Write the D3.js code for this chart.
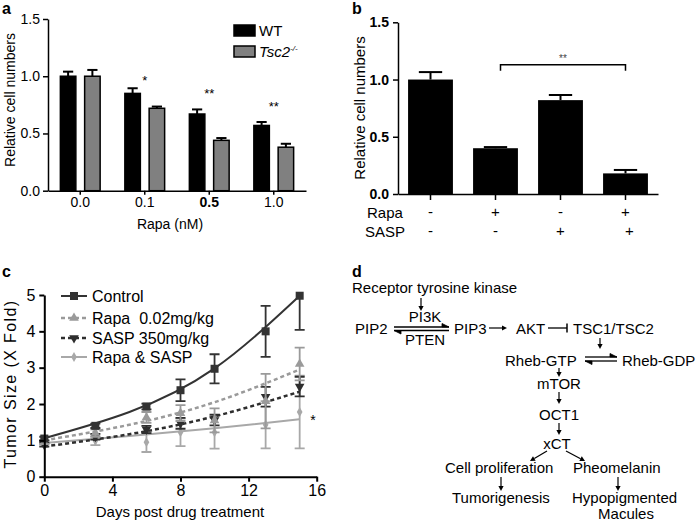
<!DOCTYPE html>
<html><head><meta charset="utf-8">
<script src="https://cdn.jsdelivr.net/npm/d3@7"></script>
<style>
body{margin:0;background:#fff}
svg{display:block;font-family:"Liberation Sans",Arial,sans-serif}
</style>
</head><body>
<svg id="chart" width="698" height="522"></svg>
<script>
// ---------- Panel a data ----------
const aCategories = ["0.0", "0.1", "0.5", "1.0"];
const aSeriesNames = ["WT", "Tsc2"];
const aWT = [1.00, 0.85, 0.67, 0.57];
const aWTErr = [0.04, 0.045, 0.04, 0.03];
const aTsc2 = [1.00, 0.72, 0.44, 0.38];
const aTsc2Err = [0.055, 0.015, 0.02, 0.03];
const aStars = ["", "*", "**", "**"];
const aStarLevel = [0, 0.99, 0.88, 0.77];
const aYTicks = [0, 0.5, 1.0, 1.5];

// ---------- Panel b data ----------
const bGroups = ["g1", "g2", "g3", "g4"];
const bRapa = ["-", "+", "-", "+"];
const bSASP = ["-", "-", "+", "+"];
const bValues = [1.00, 0.40, 0.82, 0.18];
const bErr = [0.065, 0.01, 0.045, 0.03];
const bYTicks = [0, 0.5, 1.0, 1.5];
const bBracketGroups = ["g2", "g4"];
const bBracketLevel = 1.13;

// ---------- Panel c data ----------
const cDays = [0, 3, 6, 8, 10, 13, 15];
const cControl = [1.05, 1.40, 1.93, 2.38, 2.97, 4.00, 4.98];
const cControlErr = [0.05, 0.06, 0.08, 0.30, 0.40, 0.70, 0.94];
const cRapa = [0.95, 1.20, 1.63, 1.75, 1.55, 2.08, 3.10];
const cRapaErr = [0.05, 0.10, 0.15, 0.22, 0.33, 0.75, 0.45];
const cSASP = [0.88, 1.10, 1.30, 1.47, 1.56, 2.20, 2.48];
const cSASPErr = [0.05, 0.08, 0.10, 0.15, 0.15, 0.27, 0.27];
const cCombo = [0.93, 0.99, 0.95, 1.22, 1.22, 1.43, 1.78];
const cComboErr = [0.05, 0.12, 0.27, 0.38, 0.45, 0.65, 1.00];
// trend lines
const cTrendDays = [0, 5, 10, 15];
const cControlTrend = [1.06, 1.78, 2.98, 4.98];
const cRapaTrend = [1.00, 1.43, 2.05, 2.95];
const cSASPTrend = [0.83, 1.17, 1.66, 2.34];
const cComboTrend = [0.93, 1.12, 1.33, 1.58];
const cLegend = ["Control", "Rapa  0.02mg/kg", "SASP 350mg/kg", "Rapa & SASP"];
const cXTicks = [0, 4, 8, 12, 16];
const cYTicks = [0, 1, 2, 3, 4, 5];

// ---------- Panel d labels ----------
const dLabels = [
  ["Receptor tyrosine kinase", 352, 293, "start"],
  ["PI3K", 425, 322, "middle"],
  ["PIP2", 355, 334, "start"],
  ["PTEN", 425, 345, "middle"],
  ["PIP3", 454, 334, "start"],
  ["AKT", 516, 334, "start"],
  ["TSC1/TSC2", 573, 334, "start"],
  ["Rheb-GTP", 505, 366, "start"],
  ["Rheb-GDP", 622, 366, "start"],
  ["mTOR", 559, 389, "middle"],
  ["OCT1", 559, 420, "middle"],
  ["xCT", 557, 449, "middle"],
  ["Cell proliferation", 445, 473, "start"],
  ["Pheomelanin", 573, 473, "start"],
  ["Tumorigenesis", 452, 503, "start"],
  ["Hypopigmented", 572, 503, "start"],
  ["Macules", 626, 519, "middle"]
];

const svg = d3.select("#chart");
svg.append("rect").attr("width", 698).attr("height", 522).attr("fill", "#fff");

function styleAxis(g, sw, fs, bold) {
  g.selectAll("path,line").attr("stroke", "#000").attr("stroke-width", sw);
  g.selectAll("text").attr("fill", "#000").attr("font-size", fs)
    .attr("font-family", '"Liberation Sans",Arial,sans-serif')
    .attr("font-weight", bold ? "bold" : "normal");
}
function panelLabel(t, x, y) {
  svg.append("text").text(t).attr("x", x).attr("y", y)
    .attr("font-size", 16).attr("font-weight", "bold").attr("fill", "#000");
}

// ================= Panel a =================
{
  const y = d3.scaleLinear().domain([0, 1.5]).range([190.7, 19]);
  const x = d3.scaleBand().domain(aCategories).range([48, 306])
    .paddingInner(0.36).paddingOuter(0.18);
  const xs = d3.scaleBand().domain(aSeriesNames).range([0, x.bandwidth()]).paddingInner(0.3);
  const series = [
    {name: "WT", vals: aWT, errs: aWTErr, fill: "#000"},
    {name: "Tsc2", vals: aTsc2, errs: aTsc2Err, fill: "#808080"}
  ];
  const g = svg.append("g");
  series.forEach(s => {
    aCategories.forEach((c, i) => {
      const x0 = x(c) + xs(s.name), w = xs.bandwidth();
      const cx = x0 + w / 2;
      g.append("line").attr("x1", cx).attr("x2", cx)
        .attr("y1", y(s.vals[i])).attr("y2", y(s.vals[i] + s.errs[i]))
        .attr("stroke", "#000").attr("stroke-width", 2);
      g.append("line").attr("x1", cx - w * 0.3).attr("x2", cx + w * 0.3)
        .attr("y1", y(s.vals[i] + s.errs[i])).attr("y2", y(s.vals[i] + s.errs[i]))
        .attr("stroke", "#000").attr("stroke-width", 2);
      g.append("rect").attr("x", x0 + 0.75).attr("width", w - 1.5)
        .attr("y", y(s.vals[i])).attr("height", y(0) - y(s.vals[i]))
        .attr("fill", s.fill).attr("stroke", "#000").attr("stroke-width", 1.5);
    });
  });
  aCategories.forEach((c, i) => {
    if (!aStars[i]) return;
    g.append("text").text(aStars[i]).attr("x", x(c) + x.bandwidth() / 2)
      .attr("y", y(aStarLevel[i]) + 8).attr("text-anchor", "middle")
      .attr("font-size", 13).attr("fill", "#000");
  });
  const ya = g.append("g").attr("transform", "translate(48,0)")
    .call(d3.axisLeft(y).tickValues(aYTicks).tickFormat(d3.format(".1f"))
      .tickSize(5).tickPadding(3).tickSizeOuter(0));
  styleAxis(ya, 1.5, 14, false);
  const xa = g.append("g").attr("transform", "translate(0,190.7)")
    .call(d3.axisBottom(x).tickSize(4).tickPadding(2).tickSizeOuter(0));
  styleAxis(xa, 1.5, 14, false);
  xa.selectAll(".tick text").filter(d => d === "0.5").attr("font-weight", "bold");
  g.append("text").text("Relative cell numbers")
    .attr("transform", "translate(15,100) rotate(-90)")
    .attr("text-anchor", "middle").attr("font-size", 14);
  g.append("text").text("Rapa (nM)").attr("x", 170).attr("y", 229)
    .attr("text-anchor", "middle").attr("font-size", 14);
  // legend
  const lg = g.append("g");
  lg.append("rect").attr("x", 234).attr("y", 25).attr("width", 21).attr("height", 11)
    .attr("fill", "#000").attr("stroke", "#000").attr("stroke-width", 1.5);
  lg.append("text").text("WT").attr("x", 259).attr("y", 36).attr("font-size", 15);
  lg.append("rect").attr("x", 234).attr("y", 46).attr("width", 21).attr("height", 11)
    .attr("fill", "#808080").attr("stroke", "#000").attr("stroke-width", 1.5);
  const tt = lg.append("text").attr("x", 259).attr("y", 57).attr("font-size", 15)
    .attr("font-style", "italic");
  tt.append("tspan").text("Tsc2");
  tt.append("tspan").text("-/-").attr("font-size", 8).attr("dy", -6);
  panelLabel("a", 2, 14);
}

// ================= Panel b =================
{
  const y = d3.scaleLinear().domain([0, 1.5]).range([194, 22.3]);
  const x = d3.scaleBand().domain(bGroups).range([398, 658])
    .paddingInner(0.31).paddingOuter(0.155);
  const g = svg.append("g");
  bGroups.forEach((c, i) => {
    const x0 = x(c), w = x.bandwidth(), cx = x0 + w / 2;
    const top = y(bValues[i] + bErr[i]);
    g.append("line").attr("x1", cx).attr("x2", cx).attr("y1", y(bValues[i])).attr("y2", top)
      .attr("stroke", "#000").attr("stroke-width", 2);
    g.append("line").attr("x1", cx - w * 0.26).attr("x2", cx + w * 0.26).attr("y1", top).attr("y2", top)
      .attr("stroke", "#000").attr("stroke-width", 2);
    g.append("rect").attr("x", x0).attr("width", w)
      .attr("y", y(bValues[i])).attr("height", y(0) - y(bValues[i])).attr("fill", "#000");
  });
  const ya = g.append("g").attr("transform", "translate(398,0)")
    .call(d3.axisLeft(y).tickValues(bYTicks).tickFormat(d3.format(".1f"))
      .tickSize(5).tickPadding(4).tickSizeOuter(0));
  styleAxis(ya, 1.5, 14, true);
  const xa = g.append("g").attr("transform", "translate(0,194)")
    .call(d3.axisBottom(x).tickSize(6).tickFormat("").tickSizeOuter(0));
  styleAxis(xa, 1.5, 14, false);
  // treatment rows
  g.append("text").text("Rapa").attr("x", 367).attr("y", 218).attr("font-size", 15);
  g.append("text").text("SASP").attr("x", 365).attr("y", 237).attr("font-size", 15);
  bGroups.forEach((c, i) => {
    const cx = x(c) + x.bandwidth() / 2;
    g.append("text").text(bRapa[i]).attr("x", cx).attr("y", 217)
      .attr("text-anchor", "middle").attr("font-size", 15);
    g.append("text").text(bSASP[i]).attr("x", cx + (i === 3 ? 4 : 0)).attr("y", 236)
      .attr("text-anchor", "middle").attr("font-size", 15);
  });
  // bracket
  const bx1 = x(bBracketGroups[0]) + x.bandwidth() / 2 + 5;
  const bx2 = x(bBracketGroups[1]) + x.bandwidth() / 2;
  const by = y(bBracketLevel);
  g.append("path").attr("d", `M${bx1},${by + 6}V${by}H${bx2}V${by + 6}`)
    .attr("fill", "none").attr("stroke", "#000").attr("stroke-width", 1.5);
  g.append("text").text("**").attr("x", (bx1 + bx2) / 2).attr("y", by - 3)
    .attr("text-anchor", "middle").attr("font-size", 10).attr("fill", "#444");
  g.append("text").text("Relative cell numbers")
    .attr("transform", "translate(365,108) rotate(-90)")
    .attr("text-anchor", "middle").attr("font-size", 15);
  panelLabel("b", 352, 14);
}

// ================= Panel c =================
{
  const x = d3.scaleLinear().domain([0, 16]).range([44.3, 316.7]);
  const y = d3.scaleLinear().domain([0, 5]).range([476.7, 295]);
  const g = svg.append("g");
  svg.append("defs").append("clipPath").attr("id", "cclip")
    .append("rect").attr("x", 30).attr("y", 295).attr("width", 300).attr("height", 190);
  const series = [
    {name: cLegend[3], vals: cCombo, errs: cComboErr, trend: cComboTrend, color: "#a8a8a8",
     dash: null, sym: d3.symbolDiamond, size: 28, rot: 0, lw: 2},
    {name: cLegend[2], vals: cSASP, errs: cSASPErr, trend: cSASPTrend, color: "#2e2e2e",
     dash: "4,3", sym: d3.symbolTriangle, size: 40, rot: 180, lw: 2.5},
    {name: cLegend[1], vals: cRapa, errs: cRapaErr, trend: cRapaTrend, color: "#9a9a9a",
     dash: "4,3", sym: d3.symbolTriangle, size: 40, rot: 0, lw: 2.5},
    {name: cLegend[0], vals: cControl, errs: cControlErr, trend: cControlTrend, color: "#333",
     dash: null, sym: d3.symbolSquare, size: 64, rot: 0, lw: 2}
  ];
  const line = d3.line().x(d => x(d[0])).y(d => y(d[1])).curve(d3.curveNatural);
  series.forEach(s => {
    const eg = g.append("g").attr("clip-path", "url(#cclip)");
    cDays.forEach((d, i) => {
      const cx = x(d), lo = y(s.vals[i] - s.errs[i]), hi = y(s.vals[i] + s.errs[i]);
      eg.append("path").attr("d", `M${cx},${lo}V${hi}M${cx - 5},${lo}H${cx + 5}M${cx - 5},${hi}H${cx + 5}`)
        .attr("stroke", s.color).attr("stroke-width", 1.8).attr("fill", "none");
    });
    g.append("path").datum(cTrendDays.map((d, i) => [d, s.trend[i]]))
      .attr("d", line).attr("fill", "none").attr("stroke", s.color)
      .attr("stroke-width", s.lw).attr("stroke-dasharray", s.dash);
    cDays.forEach((d, i) => {
      g.append("path").attr("d", d3.symbol(s.sym, s.size)())
        .attr("transform", `translate(${x(d)},${y(s.vals[i])}) rotate(${s.rot})`)
        .attr("fill", s.color);
    });
  });
  const ya = g.append("g").attr("transform", "translate(44.3,0)")
    .call(d3.axisLeft(y).tickValues(cYTicks).tickFormat(d3.format("d"))
      .tickSize(5).tickPadding(4).tickSizeOuter(0));
  styleAxis(ya, 2, 16, false);
  const xa = g.append("g").attr("transform", "translate(0,476.7)")
    .call(d3.axisBottom(x).tickValues(cXTicks).tickFormat(d3.format("d"))
      .tickSize(5).tickPadding(3).tickSizeOuter(0));
  styleAxis(xa, 2, 16, false);
  g.append("text").text("Days post drug treatment").attr("x", 180).attr("y", 517)
    .attr("text-anchor", "middle").attr("font-size", 15);
  g.append("text").text("Tumor Size (X Fold)")
    .attr("transform", "translate(16,384) rotate(-90)")
    .attr("text-anchor", "middle").attr("font-size", 16).attr("letter-spacing", 1.4);
  g.append("text").text("*").attr("x", 313).attr("y", 425)
    .attr("text-anchor", "middle").attr("font-size", 14);
  // legend
  const ly = [296, 318, 338, 357];
  [3, 2, 1, 0].forEach((si, k) => {
    const s = series[si], yy = ly[k];
    g.append("line").attr("x1", 61).attr("x2", 87).attr("y1", yy).attr("y2", yy)
      .attr("stroke", s.color).attr("stroke-width", s.lw).attr("stroke-dasharray", s.dash);
    g.append("path").attr("d", d3.symbol(s.sym, s.size)())
      .attr("transform", `translate(74,${yy}) rotate(${s.rot})`).attr("fill", s.color);
    g.append("text").text(s.name).attr("x", 92).attr("y", yy + 5.5)
      .attr("font-size", 16).style("white-space", "pre");
  });
  panelLabel("c", 2, 277);
}

// ================= Panel d =================
{
  const g = svg.append("g");
  dLabels.forEach(([t, x, y, a]) => {
    g.append("text").text(t).attr("x", x).attr("y", y).attr("text-anchor", a)
      .attr("font-size", 15).attr("fill", "#000");
  });
  function arrow(x1, y1, x2, y2) {
    const ang = Math.atan2(y2 - y1, x2 - x1), L = 5, W = 2.6;
    const bx = x2 - L * Math.cos(ang), by = y2 - L * Math.sin(ang);
    g.append("line").attr("x1", x1).attr("y1", y1).attr("x2", bx).attr("y2", by)
      .attr("stroke", "#000").attr("stroke-width", 1.2);
    const px = -Math.sin(ang) * W, py = Math.cos(ang) * W;
    g.append("path").attr("d", `M${x2},${y2}L${bx + px},${by + py}L${bx - px},${by - py}Z`)
      .attr("fill", "#000");
  }
  function harpoon(x1, y1, x2, y2, up) {
    const dir = Math.sign(x2 - x1);
    g.append("line").attr("x1", x1).attr("y1", y1).attr("x2", x2).attr("y2", y2)
      .attr("stroke", "#000").attr("stroke-width", 1.3);
    const s = up ? -1 : 1;
    g.append("path").attr("d", `M${x2},${y2}L${x2 - dir * 7},${y2 + s * 3.5}L${x2 - dir * 7},${y2}Z`)
      .attr("fill", "#000").attr("stroke", "#000").attr("stroke-width", 0.8);
  }
  arrow(421, 298, 421, 311);
  harpoon(394, 327, 449, 327, true);
  harpoon(449, 330.5, 394, 330.5, false);
  arrow(489, 328, 507, 328);
  g.append("line").attr("x1", 548).attr("x2", 567).attr("y1", 328).attr("y2", 328)
    .attr("stroke", "#000").attr("stroke-width", 1.3);
  g.append("line").attr("x1", 567).attr("x2", 567).attr("y1", 323.5).attr("y2", 332.5)
    .attr("stroke", "#000").attr("stroke-width", 1.5);
  arrow(600, 338, 600, 349);
  harpoon(585, 357, 617, 357, true);
  harpoon(617, 361, 585, 361, false);
  arrow(559, 368, 559, 377);
  arrow(559, 392, 559, 404);
  arrow(559, 423, 559, 435);
  arrow(547, 451, 530, 461);
  arrow(566, 451, 585, 461);
  arrow(501, 477, 501, 491);
  arrow(618, 477, 618, 491);
  panelLabel("d", 352, 277);
}
</script>
</body></html>
